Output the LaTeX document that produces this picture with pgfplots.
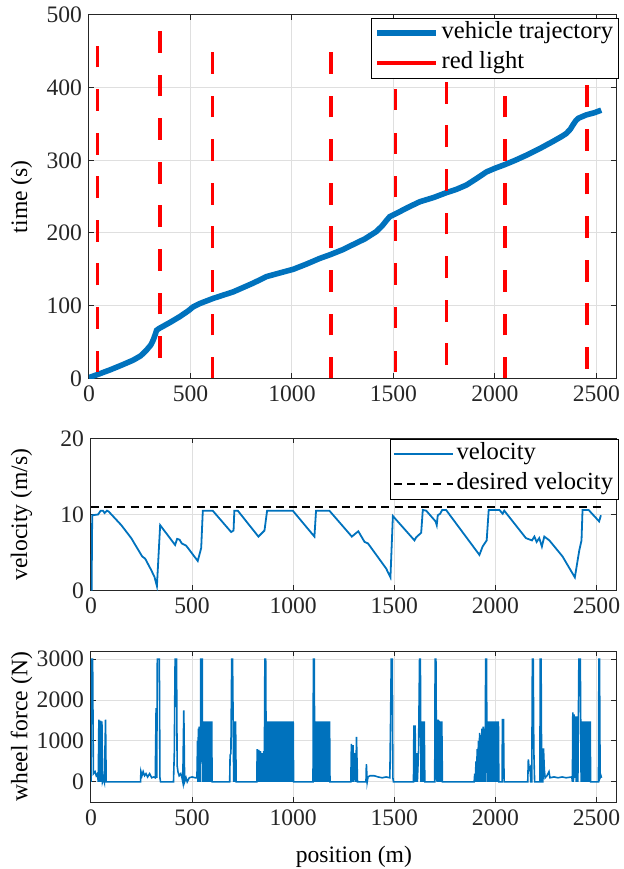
\documentclass[border=0pt]{standalone}
\usepackage{fontspec}
\setmainfont{Liberation Serif}
\usepackage{pgfplots}
\pgfplotsset{compat=1.18}
\definecolor{mblue}{RGB}{0,114,189}
\definecolor{axgray}{RGB}{38,38,38}
\definecolor{gridgray}{RGB}{223,223,223}

\pgfplotsset{
  mstyle/.style={
    scale only axis,
    anchor=south west,
    xmin=0, xmax=2600,
    xtick={0,500,...,2500},
    grid=major,
    major grid style={gridgray, line width=0.5pt},
    axis line style={axgray, line width=0.5pt},
    tick align=inside,
    major tick length=2.6pt,
    tick style={axgray, line width=0.5pt},
    every tick label/.append style={font=\fontsize{11.8}{14}\selectfont, text=axgray},
    label style={font=\fontsize{11.8}{14}\selectfont},
    /pgf/number format/assume math mode=true,
    /pgf/number format/1000 sep={},
    scaled ticks=false,
    legend cell align=left,
    legend style={font=\fontsize{12.3}{14}\selectfont, draw=black, line width=0.5pt,
      fill=white, inner xsep=1.4pt, inner ysep=0pt, outer sep=0pt, column sep=0pt,
      anchor=north east,
      nodes={inner xsep=1.4pt, inner ysep=1.5pt, text height=8.8pt, text depth=3.2pt}},
    legend image code/.code={\draw[#1] (0pt,0pt) -- (29.5pt,0pt);},
  }
}

\begin{document}
\begin{tikzpicture}
\useasboundingbox (0,0) rectangle (311.5pt,434.5pt);

% position-time
\begin{axis}[mstyle,
  at={(44.5pt,245.35pt)}, width=263.85pt, height=181.65pt,
  ymin=0, ymax=500, ytick={0,100,...,500},
  ylabel={time (s)},
  ylabel style={at={(axis description cs:-0.128,0.5)}, anchor=center},
  legend style={at={(1,1)}, xshift=1pt, yshift=-1.6pt}]
\addplot[mblue, line width=2.8pt] coordinates {
(0,0) (5,1.5) (50,6) (103,11.5) (160,18) (218,25) (255,31) (284,39) (305,46)
(317,53) (326,60) (333,66) (345,68.5) (400,77) (448,85) (490,93) (514,98.5)
(547,103) (612,110) (711,119) (809,131) (875,140) (940,145) (1006,150)
(1070,157) (1137,165) (1187,170) (1250,177) (1301,184) (1360,192) (1416,202)
(1445,210) (1465,217) (1482,222.5) (1515,227) (1570,235) (1630,243)
(1700,249) (1761,255.5) (1810,260) (1860,266) (1910,275) (1958,284)
(2000,289) (2048,294) (2100,300) (2155,307) (2220,316) (2286,326)
(2330,333) (2352,337) (2372,343) (2385,349) (2400,355) (2412,358)
(2450,362.5) (2490,365.5) (2524,369)
};
\addplot[red, line width=1.8pt, unbounded coords=jump] coordinates {
(41,8) (41,38) (41,nan) (41,68) (41,98) (41,nan) (41,128) (41,158) (41,nan)
(41,188) (41,218) (41,nan) (41,248) (41,278) (41,nan) (41,308) (41,338) (41,nan)
(41,368) (41,398) (41,nan) (41,428) (41,458) (41,nan)
(350,28) (350,58) (350,nan) (350,88) (350,118) (350,nan) (350,148) (350,178) (350,nan)
(350,208) (350,238) (350,nan) (350,268) (350,298) (350,nan) (350,328) (350,358) (350,nan)
(350,388) (350,418) (350,nan) (350,448) (350,478) (350,nan)
(609,0) (609,29) (609,nan) (609,59) (609,89) (609,nan) (609,119) (609,149) (609,nan)
(609,179) (609,209) (609,nan) (609,239) (609,269) (609,nan) (609,299) (609,329) (609,nan)
(609,359) (609,389) (609,nan) (609,419) (609,449) (609,nan)
(1191,0) (1191,29) (1191,nan) (1191,59) (1191,89) (1191,nan) (1191,119) (1191,149) (1191,nan)
(1191,179) (1191,209) (1191,nan) (1191,239) (1191,269) (1191,nan) (1191,299) (1191,329) (1191,nan)
(1191,359) (1191,389) (1191,nan) (1191,419) (1191,449) (1191,nan)
(1511,9) (1511,38) (1511,nan) (1511,69) (1511,98) (1511,nan) (1511,129) (1511,158) (1511,nan)
(1511,189) (1511,218) (1511,nan) (1511,249) (1511,278) (1511,nan) (1511,309) (1511,338) (1511,nan)
(1511,369) (1511,398) (1511,nan)
(1761,18) (1761,48) (1761,nan) (1761,78) (1761,108) (1761,nan) (1761,138) (1761,168) (1761,nan)
(1761,198) (1761,228) (1761,nan) (1761,258) (1761,288) (1761,nan) (1761,318) (1761,348) (1761,nan)
(1761,378) (1761,408) (1761,nan)
(2050,0) (2050,29) (2050,nan) (2050,59) (2050,89) (2050,nan) (2050,119) (2050,149) (2050,nan)
(2050,179) (2050,209) (2050,nan) (2050,239) (2050,269) (2050,nan) (2050,299) (2050,329) (2050,nan)
(2050,359) (2050,389) (2050,nan)
(2455,13) (2455,43) (2455,nan) (2455,73) (2455,103) (2455,nan) (2455,133) (2455,163) (2455,nan)
(2455,193) (2455,223) (2455,nan) (2455,253) (2455,283) (2455,nan) (2455,313) (2455,343) (2455,nan)
(2455,373) (2455,403)
};
\legend{vehicle trajectory, red light}
\end{axis}

% velocity
\begin{axis}[mstyle,
  at={(45.5pt,139.15pt)}, width=262.85pt, height=76.2pt,
  ymin=0, ymax=20, ytick={0,10,20},
  ylabel={velocity (m/s)},
  ylabel style={at={(axis description cs:-0.132,0.5)}, anchor=center},
  legend style={at={(1,1)}, xshift=1pt, yshift=-0.5pt}]
\addplot[mblue, line width=0.9pt] coordinates {
(3,0) (6,9.9) (35,10.0) (48,10.5) (59,10.5) (67,10.2) (79,10.5) (87,10.4)
(150,8.6) (199,6.9) (253,4.5) (268,4.2) (298,2.7) (314,1.8) (326,0.6)
(342,8.6) (416,6.0) (426,6.8) (438,6.7) (449,6.2) (471,5.9) (528,3.9)
(545,5.6) (553,10.5) (602,10.5) (693,7.7) (705,7.9) (709,10.5) (726,10.5)
(828,7.1) (858,7.9) (871,10.5) (998,10.5) (1105,7.1) (1113,10.5) (1179,10.5)
(1290,7.1) (1322,7.8) (1353,6.4) (1370,6.2) (1411,4.7) (1460,2.9) (1481,1.75)
(1493,9.8) (1600,6.6) (1608,7.0) (1633,7.6) (1641,10.6) (1658,10.5)
(1704,9.1) (1710,8.6) (1715,9.9) (1727,10.1) (1737,10.6) (1756,10.6)
(1921,4.7) (1937,5.8) (1957,6.6) (1967,10.6) (2020,10.6) (2036,10.1) (2044,10.5)
(2151,6.9) (2181,6.6) (2193,7.1) (2204,6.4) (2217,6.9) (2230,5.8) (2242,7.1)
(2267,6.6) (2332,4.5) (2393,1.75) (2415,5.3) (2426,6.6) (2431,10.6) (2461,10.6)
(2513,9.1) (2522,9.9)
};
\addplot[black, line width=1pt, dash pattern=on 4pt off 2.6pt] coordinates {
(0,11) (2522,11)
};
\legend{velocity, desired velocity}
\end{axis}

% wheel force
\begin{axis}[mstyle,
  at={(45.5pt,33.35pt)}, width=262.85pt, height=75.65pt,
  ymin=-500, ymax=3200, ytick={0,1000,2000,3000},
  ylabel={wheel force (N)},
  ylabel style={at={(axis description cs:-0.132,0.5)}, anchor=center},
  xlabel={position (m)},
  xlabel style={at={(axis description cs:0.5,0)}, anchor=center, yshift=-27.35pt}]
\addplot[mblue, line width=0.8pt] coordinates {
(0,0) (0,3000) (3,1500) (5,3000) (8,3000) (10,1500) (12,200) (20,250) (26,150)
(32,200) (36,0) (39,1520) (42,0) (47,1500) (50,0) (54,1480) (57,0) (62,80)
(66,0) (72,1520) (75,0) (245,0) (247,250) (252,150) (258,250) (265,150)
(272,200) (280,120) (290,200) (300,100) (310,120) (318,100) (322,1800)
(325,100) (328,3000) (338,3000) (341,100) (344,0) (408,0) (412,700)
(416,3000) (423,3000) (426,400) (430,250) (436,150) (444,200) (450,100)
(454,0) (459,1750) (463,0) (470,100) (476,0) (486,100) (500,120) (515,100)
(524,100) (527,1000) (529,0) (531,1300) (533,0) (535,1350) (537,0)
(539,1350) (541,0) (543,3000) (550,3000)
(552,0) (555,1480) (558,0) (561,1480) (564,0) (567,1480) (570,0) (573,1480)
(576,0) (579,1480) (582,0) (585,1480) (588,0) (591,1480) (594,0) (597,1480)
(599,0) (686,0) (688,650) (692,700) (696,3000) (700,3000) (703,1480)
(706,0) (709,1480) (712,0) (715,1480) (718,0) (820,0) (822,800) (826,0)
(830,780) (834,0) (838,750) (842,0) (846,700) (850,0) (854,750) (857,0)
(860,3000) (864,3000)
(867,0) (870,1480) (873,0) (876,1480) (879,0) (882,1480) (885,0) (888,1480)
(891,0) (894,1480) (897,0) (900,1480) (903,0) (906,1480) (909,0) (912,1480)
(915,0) (918,1480) (921,0) (924,1480) (927,0) (930,1480) (933,0) (936,1480)
(939,0) (942,1480) (945,0) (948,1480) (951,0) (954,1480) (957,0) (960,1480)
(963,0) (966,1480) (969,0) (972,1480) (975,0) (978,1480) (981,0) (984,1480)
(987,0) (990,1480) (993,0) (996,1480) (999,0) (1000,1480) (1002,0)
(1098,0) (1100,3000) (1104,3000)
(1107,0) (1110,1480) (1113,0) (1116,1480) (1119,0) (1122,1480) (1125,0)
(1128,1480) (1131,0) (1134,1480) (1137,0) (1140,1480) (1143,0) (1146,1480)
(1149,0) (1152,1480) (1155,0) (1158,1480) (1161,0) (1164,1480) (1167,0)
(1170,1480) (1173,0) (1176,1480) (1179,0) (1180,1480) (1182,0)
(1285,0) (1288,930) (1292,0) (1296,900) (1300,0) (1305,700) (1310,0)
(1313,1100) (1318,0) (1360,0) (1362,430) (1366,0) (1370,120) (1380,150)
(1400,150) (1420,120) (1440,100) (1460,120) (1478,100) (1482,1600)
(1485,3000) (1490,3000) (1493,100) (1496,0) (1595,0) (1597,1380) (1600,0)
(1603,1380) (1606,0) (1610,700) (1614,0) (1620,750) (1625,3000) (1629,3000)
(1632,0) (1635,1480) (1638,0) (1641,1480) (1645,0) (1648,1480) (1651,0)
(1700,0) (1702,3000) (1706,3000) (1709,100) (1712,0) (1716,1520) (1719,0)
(1722,1500) (1725,0) (1728,1480) (1731,0) (1735,1480) (1738,0)
(1895,0) (1898,200) (1901,0) (1904,500) (1907,0) (1910,800) (1913,0)
(1916,1000) (1919,0) (1922,1200) (1925,0) (1928,1150) (1931,0) (1934,1300)
(1937,0) (1940,1350) (1943,0) (1946,1300) (1949,0) (1952,3000) (1956,3000)
(1959,0) (1962,1480) (1965,0) (1968,1480) (1971,0) (1974,1480) (1977,0)
(1980,1480) (1983,0) (1986,1480) (1989,0) (1992,1480) (1995,0) (1998,1480)
(2001,0) (2004,1480) (2007,0) (2010,1480) (2013,0) (2015,1480) (2017,0)
(2033,0) (2035,1520) (2040,1520) (2043,0) (2160,0) (2163,550) (2167,300)
(2172,350) (2175,0) (2180,0) (2183,3000) (2187,3000) (2190,800) (2194,0)
(2220,0) (2222,3000) (2226,3000) (2229,0) (2235,0) (2238,820) (2242,300)
(2246,100) (2255,150) (2265,250) (2270,100) (2290,120) (2310,100) (2330,120)
(2350,100) (2378,120) (2381,0) (2383,1700) (2386,0) (2389,1650) (2392,100)
(2396,1600) (2400,0) (2404,1600) (2408,0) (2413,3000) (2420,3000)
(2424,0) (2427,1480) (2430,0) (2433,1480) (2436,0) (2439,1480) (2442,0)
(2445,1480) (2448,0) (2451,1480) (2454,0) (2457,1480) (2460,0) (2463,1480)
(2466,0) (2469,1480) (2471,0) (2510,0) (2512,3000) (2515,3000) (2518,100)
(2522,150) (2525,100)
};
\end{axis}
\end{tikzpicture}
\end{document}
